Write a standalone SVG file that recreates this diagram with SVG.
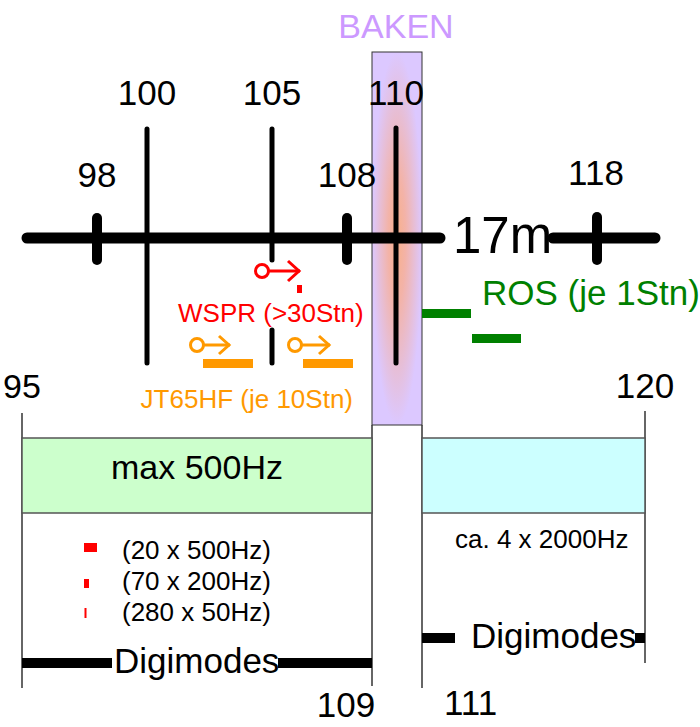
<svg xmlns="http://www.w3.org/2000/svg" width="700" height="727" viewBox="0 0 700 727">
<defs>
<radialGradient id="bakenGrad" cx="0.5" cy="0.5" r="0.5">
<stop offset="0" stop-color="#f8b08c"/>
<stop offset="0.35" stop-color="#f3b3a8"/>
<stop offset="1" stop-color="#dcc8ff"/>
</radialGradient>
<style>
text{font-family:"Liberation Sans",Arial,sans-serif;}
.num{font-size:35px;fill:#000;text-anchor:middle;}
.thin{stroke:#333;stroke-width:1.5;fill:none;}
.long{stroke:#000;stroke-width:5;stroke-linecap:round;fill:none;}
.tick{stroke:#000;stroke-width:10;stroke-linecap:round;fill:none;}
.axis{stroke:#000;stroke-width:11;stroke-linecap:round;fill:none;}
.dm{stroke:#000;stroke-width:10;fill:none;}
.red{stroke:#ff0000;stroke-width:3;fill:none;}
.org{stroke:#ff9900;stroke-width:3;fill:none;}
</style>
</defs>
<rect width="700" height="727" fill="#fff"/>

<g id="connectors">
<line class="thin" x1="22" y1="413" x2="22" y2="688"/>
<line class="thin" x1="372" y1="425" x2="372" y2="686"/>
<line class="thin" x1="422" y1="425" x2="422" y2="688"/>
<line class="thin" x1="645" y1="411" x2="645" y2="663"/>
</g>

<g id="baken">
<rect x="372" y="52" width="50" height="373" fill="url(#bakenGrad)" stroke="#333" stroke-width="1"/>
<text x="396" y="38" text-anchor="middle" font-size="34" fill="#cc99ff">BAKEN</text>
</g>

<g id="box-500">
<rect x="22" y="438" width="350" height="75" fill="#ccffcc" stroke="#555" stroke-width="1.5"/>
<text x="197" y="479" text-anchor="middle" font-size="34" fill="#000">max 500Hz</text>
</g>

<g id="box-2000">
<rect x="422" y="438" width="223" height="75" fill="#ccffff" stroke="#555" stroke-width="1.5"/>
<text x="455" y="548" font-size="26" fill="#000">ca. 4 x 2000Hz</text>
</g>

<g id="axis">
<line class="axis" x1="27" y1="238" x2="440" y2="238"/>
<line class="axis" x1="553" y1="238" x2="655" y2="238"/>
<text x="453" y="253" font-size="51" fill="#000">17m</text>
</g>

<g id="mark-98">
<line class="tick" x1="97" y1="218" x2="97" y2="260"/>
<text class="num" x="97" y="187">98</text>
</g>
<g id="mark-100">
<line class="long" x1="147" y1="129" x2="147" y2="363"/>
<text class="num" x="147" y="105">100</text>
</g>
<g id="mark-105">
<line class="long" x1="272" y1="129" x2="272" y2="260"/>
<line class="long" x1="272" y1="330" x2="272" y2="363"/>
<text class="num" x="272" y="105">105</text>
</g>
<g id="mark-108">
<line class="tick" x1="347" y1="218" x2="347" y2="260"/>
<text class="num" x="347" y="187">108</text>
</g>
<g id="mark-110">
<line class="long" x1="396" y1="128" x2="396" y2="363"/>
<text class="num" x="396" y="105">110</text>
</g>
<g id="mark-118">
<line class="tick" x1="597" y1="217" x2="597" y2="260"/>
<text class="num" x="596" y="185">118</text>
</g>

<g id="wspr">
<circle class="red" cx="262" cy="271" r="6.5"/>
<line class="red" x1="268.5" y1="271" x2="300" y2="271"/>
<polyline class="red" points="288,261 299,271 288,281"/>
<rect x="297" y="285" width="5" height="8" fill="#ff0000"/>
<text x="178" y="322" font-size="26" fill="#ff0000">WSPR (&gt;30Stn)</text>
</g>

<g id="jt65hf">
<circle class="org" cx="197" cy="345" r="6.5"/>
<line class="org" x1="203.5" y1="345" x2="230" y2="345"/>
<polyline class="org" points="219,336 229,345 219,354"/>
<rect x="203" y="359" width="50" height="9" fill="#ff9900"/>
<circle class="org" cx="295" cy="345" r="6.5"/>
<line class="org" x1="301.5" y1="345" x2="330" y2="345"/>
<polyline class="org" points="319,336 329,345 319,354"/>
<rect x="303" y="359" width="50" height="9" fill="#ff9900"/>
<text x="353" y="408" text-anchor="end" font-size="26" fill="#ff9900">JT65HF (je 10Stn)</text>
</g>

<g id="ros">
<rect x="422" y="309" width="49" height="9" fill="#008000"/>
<rect x="472" y="334" width="49" height="9" fill="#008000"/>
<text x="482" y="305" font-size="35" fill="#008000">ROS (je 1Stn)</text>
</g>

<g id="legend">
<rect x="84" y="543" width="13" height="9" fill="#ff0000"/>
<rect x="84" y="579" width="5" height="9" fill="#ff0000"/>
<rect x="84.5" y="608" width="2" height="10" fill="#ff0000"/>
<text x="122" y="559" font-size="26" fill="#000">(20 x 500Hz)</text>
<text x="122" y="590" font-size="26" fill="#000">(70 x 200Hz)</text>
<text x="122" y="621" font-size="26" fill="#000">(280 x 50Hz)</text>
</g>

<g id="digimodes-left">
<line class="dm" x1="22" y1="663" x2="112" y2="663"/>
<line class="dm" x1="278" y1="663" x2="372" y2="663"/>
<text x="114" y="673" font-size="35" fill="#000">Digimodes</text>
</g>
<g id="digimodes-right">
<line class="dm" x1="422" y1="638" x2="455" y2="638"/>
<line class="dm" x1="635" y1="638" x2="645" y2="638"/>
<text x="471" y="648" font-size="35" fill="#000">Digimodes</text>
</g>

<g id="labels">
<text x="3" y="398" font-size="34" fill="#000">95</text>
<text class="num" x="645" y="398">120</text>
<text class="num" x="346" y="717">109</text>
<text x="444" y="715" font-size="35" fill="#000">111</text>
</g>
</svg>
